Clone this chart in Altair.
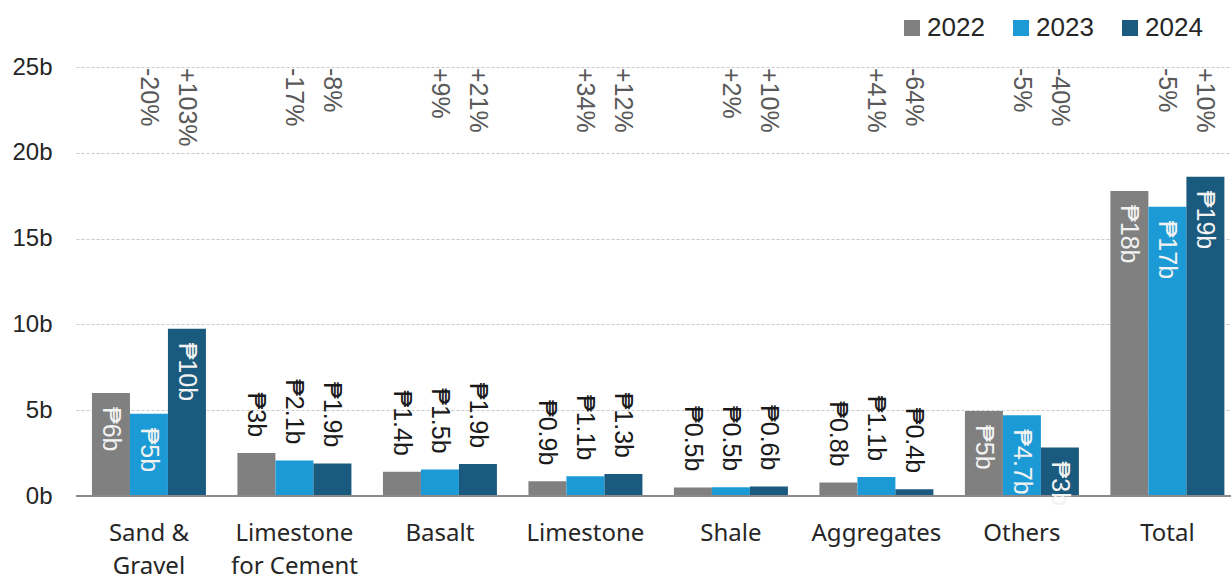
import altair as alt
import pandas as pd

# Mineral production value by commodity, in billions of pesos
categories = ["Sand & Gravel", "Limestone for Cement", "Basalt", "Limestone",
              "Shale", "Aggregates", "Others", "Total"]
years = ["2022", "2023", "2024"]
colors = ["#808080", "#1b9ad6", "#1a5a7e"]

v2022 = [6.00, 2.50, 1.41, 0.855, 0.50, 0.78, 4.95, 17.77]
v2023 = [4.80, 2.07, 1.54, 1.145, 0.51, 1.10, 4.70, 16.86]
v2024 = [9.75, 1.90, 1.86, 1.28, 0.56, 0.40, 2.82, 18.60]

lab2022 = ["₱6b", "₱3b", "₱1.4b", "₱0.9b", "₱0.5b", "₱0.8b", "₱5b", "₱18b"]
lab2023 = ["₱5b", "₱2.1b", "₱1.5b", "₱1.1b", "₱0.5b", "₱1.1b", "₱4.7b", "₱17b"]
lab2024 = ["₱10b", "₱1.9b", "₱1.9b", "₱1.3b", "₱0.6b", "₱0.4b", "₱3b", "₱19b"]

# Year-on-year change, shown above the 2023 and 2024 bars
chg2023 = ["-20%", "-17%", "+9%", "+34%", "+2%", "+41%", "-5%", "-5%"]
chg2024 = ["+103%", "-8%", "+21%", "+12%", "+10%", "-64%", "-40%", "+10%"]

# Value labels sit inside the bar for the tall groups
label_inside = [True, False, False, False, False, False, True, True]

rows = []
for i, cat in enumerate(categories):
    for yr, vals, labs in zip(years, [v2022, v2023, v2024], [lab2022, lab2023, lab2024]):
        rows.append({"category": cat, "year": yr, "value": vals[i],
                     "label": labs[i], "inside": label_inside[i]})
bars_df = pd.DataFrame(rows)

chg_rows = []
for i, cat in enumerate(categories):
    chg_rows.append({"category": cat, "year": "2023", "chg": chg2023[i]})
    chg_rows.append({"category": cat, "year": "2024", "chg": chg2024[i]})
chg_df = pd.DataFrame(chg_rows)

FONT = "Liberation Sans, Arial, DejaVu Sans"
CAT_FONT = "Noto Sans, Open Sans, sans-serif"

x_enc = alt.X(
    "category:N", sort=categories, title=None,
    scale=alt.Scale(paddingInner=0.2165, paddingOuter=0.0775, align=0.707),
    axis=alt.Axis(
        labelAngle=0, domain=False, ticks=False, tickSize=0,
        labelFont=CAT_FONT, labelFontSize=24, labelColor="#262626",
        labelPadding=25, labelLineHeight=33,
        labelExpr="datum.label == 'Sand & Gravel' ? ['Sand &', 'Gravel'] : "
                  "datum.label == 'Limestone for Cement' ? ['Limestone', 'for Cement'] : datum.label",
    ),
)
xoff_enc = alt.XOffset("year:N", sort=years, scale=alt.Scale(paddingInner=0, paddingOuter=0))
y_enc = alt.Y(
    "value:Q", title=None,
    scale=alt.Scale(domain=[0, 25], nice=False),
    axis=alt.Axis(
        values=[0, 5, 10, 15, 20, 25], labelExpr="datum.value + 'b'",
        domain=False, ticks=False, labelPadding=24,
        labelFont=FONT, labelFontSize=24, labelColor="#262626",
        grid=True, gridColor="#c8c8c8", gridDash=[3, 2], gridWidth=1,
    ),
)

bars = alt.Chart(bars_df).mark_bar().encode(
    x=x_enc, xOffset=xoff_enc, y=y_enc,
    color=alt.Color(
        "year:N", sort=years,
        scale=alt.Scale(domain=years, range=colors),
        legend=alt.Legend(
            title=None, orient="none", legendX=823, legendY=-52,
            direction="horizontal", symbolType="square", symbolSize=256,
            symbolStrokeWidth=0, labelFont=FONT, labelFontSize=26,
            labelColor="#262626", labelOffset=2, columnPadding=23,
        ),
    ),
)

baseline = alt.Chart(bars_df).mark_rule(color="#8a8a8a", strokeWidth=2).encode(
    y=alt.datum(0)
)

inside_labels = alt.Chart(bars_df).transform_filter(alt.datum.inside).mark_text(
    angle=90, align="left", baseline="middle", dx=14,
    font=FONT, fontSize=25, color="#f2f2f2",
).encode(x=alt.X("category:N", sort=categories), xOffset=alt.XOffset("year:N", sort=years),
         y="value:Q", text="label:N")

outside_labels = alt.Chart(bars_df).transform_filter(~alt.datum.inside).mark_text(
    angle=90, align="right", baseline="middle", dx=-16,
    font=FONT, fontSize=25, color="#1a1a1a",
).encode(x=alt.X("category:N", sort=categories), xOffset=alt.XOffset("year:N", sort=years),
         y="value:Q", text="label:N")

change_labels = alt.Chart(chg_df).mark_text(
    angle=90, align="left", baseline="middle", dx=1,
    font=FONT, fontSize=25, color="#595959",
).encode(x=alt.X("category:N", sort=categories), xOffset=alt.XOffset("year:N", sort=years),
         y=alt.value(0), text="chg:N")

chart = alt.layer(bars, baseline, inside_labels, outside_labels, change_labels).properties(
    width=1155, height=429,
    padding={"left": 76, "top": 67, "right": 0, "bottom": 86},
    autosize=alt.AutoSizeParams(type="none"),
).configure_view(stroke=None)

chart.save("out.html", embed_options={"renderer": "svg", "actions": False})
